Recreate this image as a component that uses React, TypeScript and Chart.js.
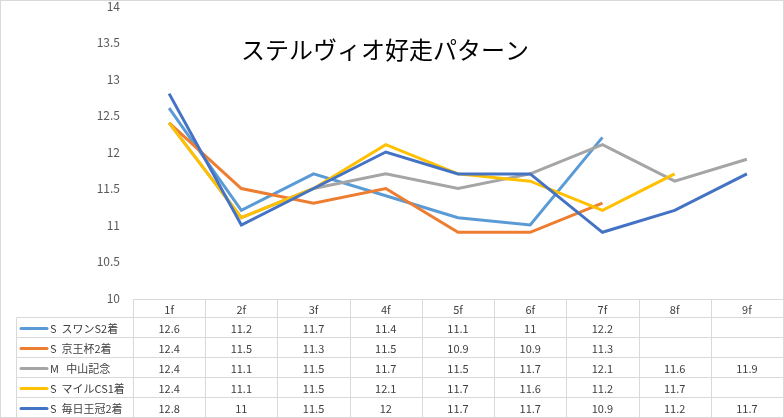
import React, { useEffect, useRef } from "react";
import { Chart, registerables } from "chart.js";

Chart.register(...registerables);

const categories = ["1f", "2f", "3f", "4f", "5f", "6f", "7f", "8f", "9f"];
const seriesNames = ["S  スワンS2着", "S  京王杯2着", "M   中山記念", "S  マイルCS1着", "S  毎日王冠2着"];
const swanS: (number | null)[] = [12.6, 11.2, 11.7, 11.4, 11.1, 11, 12.2, null, null];
const keiohai: (number | null)[] = [12.4, 11.5, 11.3, 11.5, 10.9, 10.9, 11.3, null, null];
const nakayama: (number | null)[] = [12.4, 11.1, 11.5, 11.7, 11.5, 11.7, 12.1, 11.6, 11.9];
const mileCS: (number | null)[] = [12.4, 11.1, 11.5, 12.1, 11.7, 11.6, 11.2, 11.7, null];
const mainichi: (number | null)[] = [12.8, 11, 11.5, 12, 11.7, 11.7, 10.9, 11.2, 11.7];
const seriesValues = [swanS, keiohai, nakayama, mileCS, mainichi];
const seriesColors = ["#5B9BD5", "#ED7D31", "#A5A5A5", "#FFC000", "#4472C4"];
const yTicks = [10, 10.5, 11, 11.5, 12, 12.5, 13, 13.5, 14];
const title = "ステルヴィオ好走パターン";

const FONT = '"Noto Sans CJK JP", "Noto Sans", sans-serif';
const LINE = "#d9d9d9";
const TEXT = "#404040";

const tablePlugin = {
  id: "dataTable",
  beforeDraw(chart: any) {
    const ctx = chart.ctx;
    ctx.save();
    ctx.fillStyle = "#ffffff";
    ctx.fillRect(0, 0, chart.width, chart.height);
    ctx.restore();
  },
  afterDraw(chart: any) {
    const ctx = chart.ctx;
    const area = chart.chartArea;
    const xs = chart.scales.x;
    const n = categories.length;
    const colW = (area.right - area.left) / n;
    const headTop = area.bottom + 1.5;
    const headH = 18;
    const rowH = 20;
    const tableBottom = headTop + headH + rowH * seriesNames.length;
    const legendLeft = 16.5;

    ctx.save();
    // outer border
    ctx.strokeStyle = LINE;
    ctx.lineWidth = 1;
    ctx.strokeRect(0.5, 0.5, chart.width - 1, chart.height - 1);

    // table lines
    ctx.beginPath();
    ctx.moveTo(area.left, headTop);
    ctx.lineTo(area.right, headTop);
    for (let r = 0; r <= seriesNames.length; r++) {
      const y = headTop + headH + r * rowH;
      ctx.moveTo(legendLeft, y);
      ctx.lineTo(area.right, y);
    }
    for (let i = 0; i <= n; i++) {
      const x = Math.round(area.left + i * colW) + 0.5;
      ctx.moveTo(x, headTop);
      ctx.lineTo(x, tableBottom);
    }
    ctx.moveTo(legendLeft, headTop + headH);
    ctx.lineTo(legendLeft, tableBottom);
    ctx.stroke();

    // header text
    ctx.fillStyle = TEXT;
    ctx.font = `11px ${FONT}`;
    ctx.textAlign = "center";
    ctx.textBaseline = "middle";
    categories.forEach((c, i) => {
      ctx.fillText(c, xs.getPixelForValue(i), headTop + headH / 2 + 1);
    });

    // rows
    seriesNames.forEach((name, r) => {
      const cy = headTop + headH + r * rowH + rowH / 2 + 1;
      ctx.strokeStyle = seriesColors[r];
      ctx.lineWidth = 3;
      ctx.lineCap = "round";
      ctx.beginPath();
      ctx.moveTo(21, cy);
      ctx.lineTo(47, cy);
      ctx.stroke();
      ctx.fillStyle = TEXT;
      ctx.textAlign = "left";
      ctx.fillText(name, 50, cy);
      ctx.textAlign = "center";
      seriesValues[r].forEach((v, i) => {
        if (v !== null) ctx.fillText(String(v), xs.getPixelForValue(i), cy);
      });
    });

    // title
    ctx.fillStyle = "#000000";
    ctx.font = `24px ${FONT}`;
    ctx.textAlign = "center";
    ctx.textBaseline = "middle";
    ctx.fillText(title, 385, 50);
    ctx.restore();
  },
};

export default function App() {
  const ref = useRef<HTMLCanvasElement | null>(null);
  useEffect(() => {
    if (!ref.current) return;
    const chart = new Chart(ref.current, {
      type: "line",
      data: {
        labels: categories,
        datasets: seriesNames.map((name, i) => ({
          label: name,
          data: seriesValues[i],
          borderColor: seriesColors[i],
          backgroundColor: seriesColors[i],
          borderWidth: 3,
          pointRadius: 0,
          tension: 0,
          spanGaps: false,
          order: seriesNames.length - i,
        })),
      },
      options: {
        animation: false,
        responsive: false,
        devicePixelRatio: 1,
        layout: { padding: { left: 0, right: 1, top: 6, bottom: 120 } },
        plugins: {
          legend: { display: false },
          tooltip: { enabled: false },
          title: { display: false },
        },
        scales: {
          x: {
            type: "category",
            display: false,
            offset: true,
          },
          y: {
            min: 10,
            max: 14,
            afterBuildTicks: (scale: any) => {
              scale.ticks = yTicks.map((v) => ({ value: v }));
            },
            afterFit: (scale: any) => {
              scale.width = 133;
              scale.paddingTop = 0;
              scale.paddingBottom = 0;
            },
            grid: { display: false, drawTicks: false },
            border: { display: false },
            ticks: {
              color: "#595959",
              padding: 13,
              font: { family: FONT, size: 12 },
              callback: (v: any) => String(v),
            },
          },
        },
      },
      plugins: [tablePlugin],
    } as any);
    return () => chart.destroy();
  }, []);
  return (
    <div style={{ position: "absolute", left: 0, top: 0, width: 784, height: 418 }}>
      <canvas ref={ref} width={784} height={418} />
    </div>
  );
}
